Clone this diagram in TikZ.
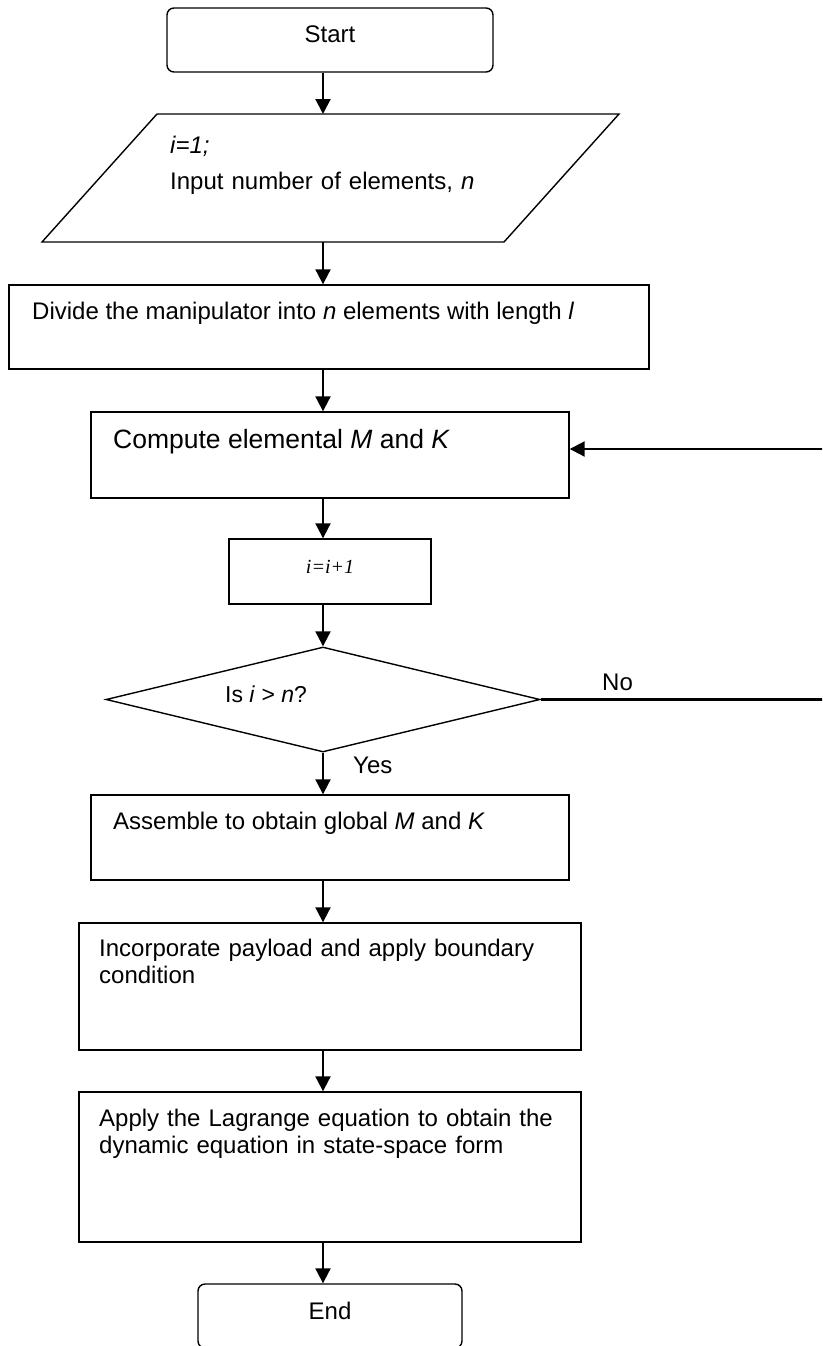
\documentclass[tikz,border=0pt]{standalone}
\usepackage{fontspec}
\setmainfont{Liberation Sans}
\newfontfamily\timesfont{Liberation Serif}
\usepackage{tikz}
\usetikzlibrary{arrows.meta,shapes.geometric}

\begin{document}
\begin{tikzpicture}[x=1pt, y=-1pt]

        \tikzset{block/.style = {shape=rectangle, draw, line width=1.4pt, inner sep=0pt}}
        \tikzset{terminal/.style = {block, rounded corners=7pt}}
        \tikzset{decision/.style = {shape=diamond, draw, line width=1.4pt, inner sep=0pt}}
        \tikzset{txt/.style = {inner sep=0pt, anchor=base west, font=\fontsize{24pt}{27pt}\selectfont}}
        \tikzset{flow/.style = {line width=2.1pt, -{Triangle[length=15pt, width=15pt]}}}

        \useasboundingbox (0,0) rectangle (822,1346);
        \clip (0,0) rectangle (822,1346);

        \coordinate (axis) at (323,0);
        \coordinate (loop) at (824,699.5);

        \node[terminal, minimum width=326pt, minimum height=64pt] (start) at (330,40) {};
        \coordinate (inTop) at (323,114);
        \coordinate (inBottom) at (323,242);
        \draw[line width=1.4pt] (157,114) -- (619,114) -- (504,242) -- (42,242) -- cycle;
        \node[block, minimum width=640pt, minimum height=84pt] (divide) at (329,327) {};
        \node[block, minimum width=478pt, minimum height=86pt] (compute) at (330,455) {};
        \node[block, minimum width=202pt, minimum height=65pt] (counter) at (330,571.5) {};
        \node[decision, minimum width=434pt, minimum height=105pt] (check) at (323,699.5) {};
        \node[block, minimum width=478pt, minimum height=85pt] (assemble) at (330,837.5) {};
        \node[block, minimum width=502pt, minimum height=127pt] (payload) at (330,986.5) {};
        \node[block, minimum width=502pt, minimum height=150pt] (lagrange) at (330,1167) {};
        \node[terminal, minimum width=264pt, minimum height=64pt] (stop) at (330,1316) {};

        \node[txt, anchor=base] (startText) at (330,43) {Start};
        \node[txt, text width=440pt, align=left] (inputText) at (170,153) {\textit{i=1;}\\[9pt]Input number of elements, \textit{n}};
        \node[txt] (divideText) at (32,319) {Divide the manipulator into \textit{n} elements with length \textit{l}};
        \node[txt, font=\fontsize{26.5pt}{30pt}\selectfont] (computeText) at (113,448) {Compute elemental \textit{M} and \textit{K}};
        \node[txt, anchor=base, font=\timesfont\itshape\fontsize{20pt}{24pt}\selectfont] (counterText) at (330,573) {i=i+1};
        \node[txt, font=\fontsize{23pt}{27pt}\selectfont] (checkText) at (225,702) {Is \textit{i} > \textit{n}?};
        \node[txt] (yesText) at (353,773) {Yes};
        \node[txt] (noText) at (602,690) {No};
        \node[txt] (assembleText) at (113,829) {Assemble to obtain global \textit{M} and \textit{K}};
        \node[txt, text width=480pt, align=left] (payloadText) at (99,956) {Incorporate payload and apply boundary\\condition};
        \node[txt, text width=480pt, align=left] (lagrangeText) at (99,1126) {Apply the Lagrange equation to obtain the\\dynamic equation in state-space form};
        \node[txt, anchor=base] (stopText) at (330,1319) {End};

        \draw[flow] (start.south -| axis) -- (inTop);
        \draw[flow] (inBottom) -- (divide.north -| axis);
        \draw[flow] (divide.south -| axis) -- (compute.north -| axis);
        \draw[flow] (compute.south -| axis) -- (counter.north -| axis);
        \draw[flow] (counter.south -| axis) -- (check.north);
        \draw[flow] (check.south) -- (assemble.north -| axis);
        \draw[flow] (assemble.south -| axis) -- (payload.north -| axis);
        \draw[flow] (payload.south -| axis) -- (lagrange.north -| axis);
        \draw[flow] (lagrange.south -| axis) -- (stop.north -| axis);

        % No branch goes back to the element loop
        \draw[flow] (check.east) -- (loop) |- ([yshift=6pt]compute.east);
\end{tikzpicture}
\end{document}
